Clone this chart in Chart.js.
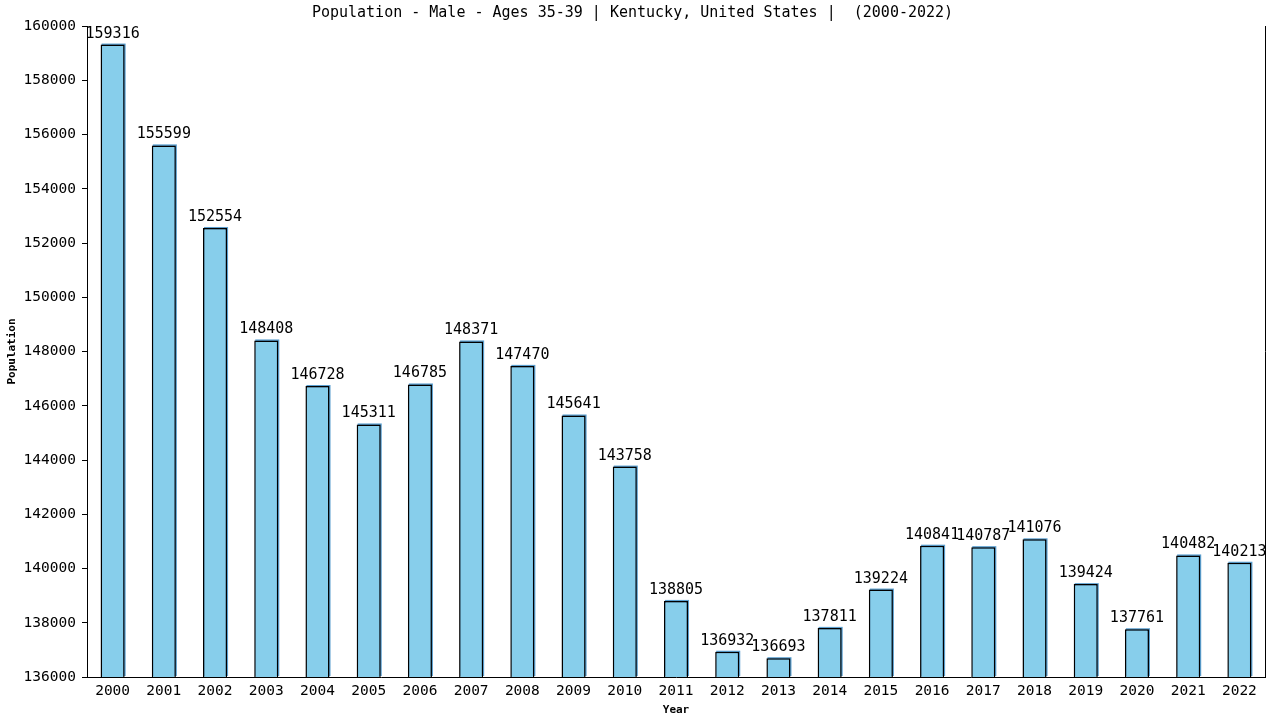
<!DOCTYPE html>
<html>
<head>
<meta charset="utf-8">
<script src="https://cdn.jsdelivr.net/npm/chart.js@4"></script>
<style>
html,body{margin:0;padding:0;background:#fff;}
#wrap{width:1280px;height:720px;}
</style>
</head>
<body>
<div id="wrap"><canvas id="c" width="1280" height="720"></canvas></div>
<script>
const years = ["2000","2001","2002","2003","2004","2005","2006","2007","2008","2009","2010","2011","2012","2013","2014","2015","2016","2017","2018","2019","2020","2021","2022"];
const population = [159316,155599,152554,148408,146728,145311,146785,148371,147470,145641,143758,138805,136932,136693,137811,139224,140841,140787,141076,139424,137761,140482,140213];
const titleText = "Population - Male - Ages 35-39 | Kentucky, United States |  (2000-2022)";
const yMin = 136000, yMax = 160000, yStep = 2000;

const MONO = "'DejaVu Sans Mono', 'Liberation Mono', monospace";

const shadowPlugin = {
  id: 'barShadow',
  beforeDatasetsDraw(chart) {
    const ctx = chart.ctx;
    const a = chart.chartArea;
    const meta = chart.getDatasetMeta(0);
    ctx.save();
    ctx.beginPath();
    ctx.rect(a.left, a.top - 2, a.right - a.left, a.bottom - a.top + 2);
    ctx.clip();
    ctx.fillStyle = '#5b9fcf';
    meta.data.forEach(el => {
      const w = el.width;
      const bottom = Math.min(el.base, a.bottom);
      ctx.fillRect(el.x - w / 2 + 1, el.y - 1, w, bottom - el.y);
    });
    ctx.restore();
  }
};

const labelPlugin = {
  id: 'valueLabels',
  afterDatasetsDraw(chart) {
    const ctx = chart.ctx;
    const meta = chart.getDatasetMeta(0);
    ctx.save();
    ctx.font = "15px " + MONO;
    ctx.fillStyle = '#000';
    ctx.textAlign = 'center';
    ctx.textBaseline = 'alphabetic';
    meta.data.forEach((el, i) => {
      ctx.fillText(String(population[i]), el.x, el.y - 7);
    });
    ctx.restore();
  }
};

const framePlugin = {
  id: 'rightFrame',
  afterDraw(chart) {
    const a = chart.chartArea;
    const ctx = chart.ctx;
    ctx.save();
    ctx.strokeStyle = '#000';
    ctx.lineWidth = 1;
    ctx.beginPath();
    ctx.moveTo(Math.round(a.right) + 0.5, a.top);
    ctx.lineTo(Math.round(a.right) + 0.5, a.bottom);
    ctx.stroke();
    ctx.restore();
  }
};

new Chart(document.getElementById('c'), {
  type: 'bar',
  data: {
    labels: years,
    datasets: [{
      data: population,
      backgroundColor: '#87CEEB',
      borderColor: '#000',
      borderWidth: 1.5,
      borderSkipped: 'bottom',
      categoryPercentage: 1.0,
      barPercentage: 0.47
    }]
  },
  options: {
    responsive: false,
    animation: false,
    devicePixelRatio: 1,
    layout: { padding: { left: 0, right: 15, top: 0, bottom: 0 } },
    plugins: {
      legend: { display: false },
      tooltip: { enabled: false },
      title: {
        display: true,
        text: titleText,
        color: '#000',
        font: { family: MONO, size: 15, weight: 'normal', lineHeight: 1.2 },
        padding: { top: 4, bottom: 4 }
      }
    },
    scales: {
      x: {
        grid: { display: false, drawTicks: false },
        border: { display: true, color: '#000', width: 1 },
        ticks: { color: '#000', font: { family: MONO, size: 14.5 }, padding: 6, maxRotation: 0, autoSkip: false },
        title: { display: true, text: 'Year', color: '#000', font: { family: MONO, size: 11, weight: 'bold' }, padding: { top: 4, bottom: 3 } },
        afterFit(scale) { scale.height = 43; }
      },
      y: {
        min: yMin,
        max: yMax,
        grid: { display: true, drawOnChartArea: false, drawTicks: true, tickLength: 5, color: '#000' },
        border: { display: true, color: '#000', width: 1 },
        ticks: { stepSize: yStep, color: '#000', font: { family: MONO, size: 14.5 }, padding: 6, callback: v => String(v) },
        title: { display: true, text: 'Population', color: '#000', font: { family: MONO, size: 11, weight: 'bold' }, padding: { top: 6, bottom: 0 } },
        afterFit(scale) { scale.width = 87; }
      }
    }
  },
  plugins: [shadowPlugin, labelPlugin, framePlugin]
});
</script>
</body>
</html>
